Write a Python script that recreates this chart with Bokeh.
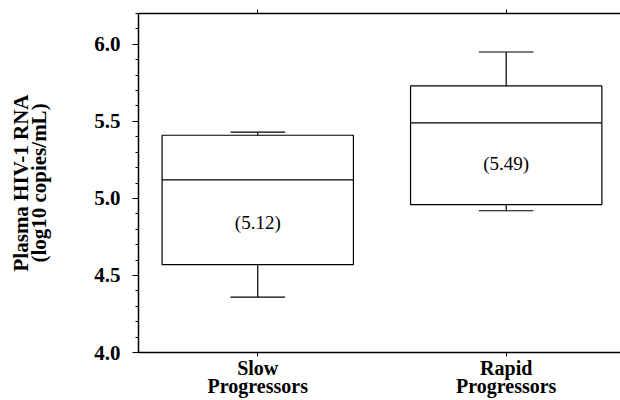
from bokeh.plotting import figure
from bokeh.models import Range1d, FixedTicker, SingleIntervalTicker, LinearAxis, ColumnDataSource, NumeralTickFormatter, CustomJSTickFormatter
from bokeh.core.properties import value
from bokeh.embed import file_html
from bokeh.resources import INLINE

# ---- data ----
categories = ["Slow\nProgressors", "Rapid\nProgressors"]
lower_whisker = [4.36, 4.92]
q1 = [4.57, 4.96]
median = [5.12, 5.49]
q3 = [5.41, 5.73]
upper_whisker = [5.43, 5.95]

# ---- styling constants ----
BOX_W = 0.77
CAP_W = 0.22
SERIF = "Liberation Serif"

xs = [i + 1 for i in range(len(categories))]
src = ColumnDataSource(dict(
    x=xs,
    left=[x - BOX_W / 2 for x in xs],
    right=[x + BOX_W / 2 for x in xs],
    cap_l=[x - CAP_W / 2 for x in xs],
    cap_r=[x + CAP_W / 2 for x in xs],
    lo=lower_whisker, q1=q1, med=median, q3=q3, hi=upper_whisker,
    ty=[(m + a) / 2 for m, a in zip(median, q1)],
    label=["(%.2f)" % m for m in median],
))

p = figure(width=620, height=400, output_backend="svg", toolbar_location=None,
           x_range=Range1d(0.52, 2.46), y_range=Range1d(4.0, 6.2),
           min_border_left=138, min_border_right=0, min_border_top=13,
           min_border_bottom=47)
p.grid.visible = False
p.outline_line_color = None
p.background_fill_color = None
p.border_fill_color = None

LW = 1.2
p.quad(left="left", right="right", bottom="q1", top="q3", source=src,
       fill_color=None, line_color="black", line_width=LW)
p.segment(x0="left", x1="right", y0="med", y1="med", source=src,
          line_color="black", line_width=LW)
p.segment(x0="x", x1="x", y0="q3", y1="hi", source=src, line_color="black", line_width=LW)
p.segment(x0="x", x1="x", y0="q1", y1="lo", source=src, line_color="black", line_width=LW)
p.segment(x0="cap_l", x1="cap_r", y0="hi", y1="hi", source=src, line_color="black", line_width=LW)
p.segment(x0="cap_l", x1="cap_r", y0="lo", y1="lo", source=src, line_color="black", line_width=LW)
p.text(x="x", y="ty", text="label", source=src, text_align="center",
       text_baseline="middle", text_font=value(SERIF), text_font_size="19px",
       text_color="black")

# y axis
ya = p.yaxis[0]
ya.ticker = SingleIntervalTicker(interval=0.5, num_minor_ticks=5)
ya.formatter = NumeralTickFormatter(format="0.0")
ya.axis_line_width = 1.5
ya.axis_line_color = "black"
ya.major_tick_out = 6
ya.major_tick_in = 0
ya.minor_tick_out = 3
ya.minor_tick_in = 0
ya.major_tick_line_width = 1.2
ya.minor_tick_line_width = 1
ya.major_label_text_font = SERIF
ya.major_label_text_font_style = "bold"
ya.major_label_text_font_size = "21px"
ya.major_label_text_color = "black"
ya.major_label_standoff = 12
ya.axis_label = "Plasma HIV-1 RNA\n(log10 copies/mL)"
ya.axis_label_text_font = SERIF
ya.axis_label_text_font_style = "bold"
ya.axis_label_text_font_size = "21px"
ya.axis_label_text_color = "black"
ya.axis_label_text_line_height = 0.78
ya.axis_label_standoff = 40

# x axis
xa = p.xaxis[0]
xa.ticker = FixedTicker(ticks=xs, minor_ticks=[])
xa.major_label_overrides = {x: c for x, c in zip(xs, categories)}
xa.axis_line_width = 1.5
xa.axis_line_color = "black"
xa.major_tick_out = 4
xa.major_tick_in = 0
xa.major_label_text_font = SERIF
xa.major_label_text_font_style = "bold"
xa.major_label_text_font_size = "20px"
xa.major_label_text_color = "black"
xa.major_label_text_line_height = 0.85
xa.major_label_standoff = 0

# top axis: frame line with ticks only
ta = LinearAxis(ticker=FixedTicker(ticks=xs, minor_ticks=[]),
                formatter=CustomJSTickFormatter(code="return ''"))
ta.major_label_standoff = 0
ta.axis_line_width = 1.5
ta.axis_line_color = "black"
ta.major_tick_out = 4
ta.major_tick_in = 0
p.add_layout(ta, "above")

open("out.html", "w").write(file_html(p, INLINE))
